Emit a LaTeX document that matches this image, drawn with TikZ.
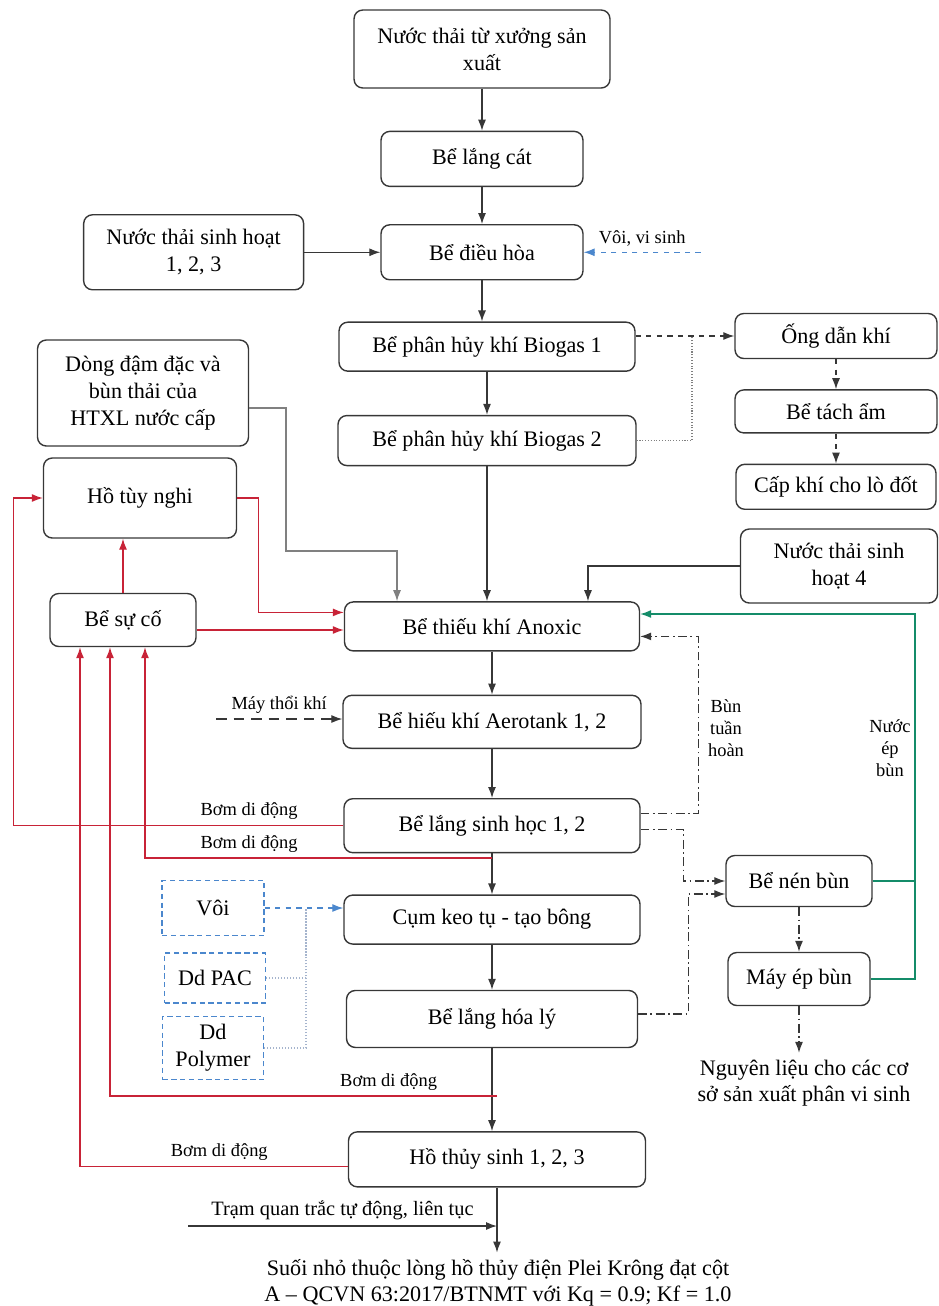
\documentclass[tikz,border=0pt]{standalone}
\usepackage{fontspec}
\setmainfont{Liberation Serif}
\usetikzlibrary{positioning,arrows.meta}
\definecolor{pumpred}{RGB}{200,35,55}
\definecolor{presgreen}{RGB}{20,140,105}
\definecolor{dosblue}{RGB}{75,135,205}
\definecolor{chemgray}{RGB}{165,180,205}
\definecolor{linegray}{RGB}{55,55,55}

\tikzset{
  tank/.style={draw=linegray, line width=0.8pt, rounded corners=5pt, align=center,
    inner sep=2pt, font=\fontsize{12.6}{15.4}\selectfont},
  chem/.style={draw=dosblue, densely dashed, line width=0.7pt, align=center,
    inner sep=2pt, font=\fontsize{12.6}{15.4}\selectfont},
  lbl/.style={font=\fontsize{10.5}{12.5}\selectfont, align=center, inner sep=1pt},
  flow/.style={draw=linegray, line width=0.7pt, -{Latex[length=2.2mm,width=1.6mm]}},
  pump/.style={flow, draw=pumpred},
  gas/.style={flow, dashed},
  gasdot/.style={draw=gray, densely dotted, line width=0.6pt},
  grayflow/.style={flow, draw=gray},
  dose/.style={flow, draw=dosblue, dashed},
  chemline/.style={draw=chemgray, densely dotted, line width=0.7pt},
  sludge/.style={flow, dash pattern=on 5pt off 2pt on 1pt off 2pt},
  air/.style={flow, dash pattern=on 6pt off 4pt},
  pressline/.style={flow, draw=presgreen},
  greenplain/.style={draw=presgreen, line width=0.7pt}
}

\begin{document}
\begin{tikzpicture}[x=0.02cm, y=-0.02cm]
\useasboundingbox (0,0) rectangle (938,1306);

% main line
\node[tank, minimum width=5.12cm, minimum height=1.56cm] (src) at (482,49) {Nước thải từ xưởng sản\\xuất};
\node[tank, below=0.84cm of src, minimum width=4.04cm, minimum height=1.1cm] (cat) {Bể lắng cát};
\node[tank, below=0.74cm of cat, minimum width=4.04cm, minimum height=1.1cm] (dh) {Bể điều hòa};
\node[tank, below=0.82cm of dh, xshift=0.1cm, minimum width=5.92cm, minimum height=0.98cm] (bio1) {Bể phân hủy khí Biogas 1};
\node[tank, below=0.86cm of bio1, minimum width=5.96cm, minimum height=1cm] (bio2) {Bể phân hủy khí Biogas 2};
\node[tank, below=2.7cm of bio2, xshift=0.1cm, minimum width=5.9cm, minimum height=0.98cm] (anoxic) {Bể thiếu khí Anoxic};
\node[tank, below=0.86cm of anoxic, minimum width=5.96cm, minimum height=1.06cm] (aero) {Bể hiếu khí Aerotank 1, 2};
\node[tank, below=0.98cm of aero, minimum width=5.92cm, minimum height=1.08cm] (lsh) {Bể lắng sinh học 1, 2};
\node[tank, below=0.82cm of lsh, minimum width=5.92cm, minimum height=0.98cm] (keo) {Cụm keo tụ - tạo bông};
\node[tank, below=0.9cm of keo, minimum width=5.82cm, minimum height=1.14cm] (lhl) {Bể lắng hóa lý};
\node[tank, below=1.66cm of lhl, xshift=0.1cm, minimum width=5.94cm, minimum height=1.1cm] (hts) {Hồ thủy sinh 1, 2, 3};
\node[lbl, font=\fontsize{12.6}{14.8}\selectfont] (song) at (498,1283) {Suối nhỏ thuộc lòng hồ thủy điện Plei Krông đạt cột\\A -- QCVN 63:2017/BTNMT với Kq = 0.9; Kf = 1.0};

% side boxes
\node[tank, left=1.52cm of dh, minimum width=4.4cm, minimum height=1.5cm] (sh123) {Nước thải sinh hoạt\\1, 2, 3};
\node[tank, minimum width=4.04cm, minimum height=0.9cm] (ong) at (836,336) {Ống dẫn khí};
\node[tank, below=0.6cm of ong, minimum width=4.04cm, minimum height=0.86cm] (tach) {Bể tách ẩm};
\node[tank, below=0.6cm of tach, minimum width=4cm, minimum height=0.9cm] (capkhi) {Cấp khí cho lò đốt};
\node[tank, minimum width=4.22cm, minimum height=2.12cm] (dong) at (143,393) {Dòng đậm đặc và\\bùn thải của\\HTXL nước cấp};
\node[tank, minimum width=3.86cm, minimum height=1.6cm] (ho) at (140,498) {Hồ tùy nghi};
\node[tank, minimum width=2.92cm, minimum height=1.06cm] (suco) at (123,620) {Bể sự cố};
\node[tank, minimum width=3.94cm, minimum height=1.48cm] (sh4) at (839,566) {Nước thải sinh\\hoạt 4};
\node[chem, minimum width=2.04cm, minimum height=1.1cm] (voi) at (213,908) {Vôi};
\node[chem, minimum width=2.02cm, minimum height=1cm] (pac) at (215,978) {Dd PAC};
\node[chem, minimum width=2.02cm, minimum height=1.26cm] (poly) at (213,1048) {Dd\\Polymer};
\node[tank, minimum width=2.92cm, minimum height=1.02cm] (nen) at (799,881) {Bể nén bùn};
\node[tank, minimum width=2.84cm, minimum height=1.06cm] (ep) at (799,979) {Máy ép bùn};
\node[lbl, font=\fontsize{12.6}{14.8}\selectfont] (nl) at (804,1083) {Nguyên liệu cho các cơ\\sở sản xuất phân vi sinh};
\node[lbl] (bth) at (726,728) {Bùn\\tuần\\hoàn};
\node[lbl] (neb) at (890,748) {Nước\\ép\\bùn};

% main flow
\draw[flow] (src) -- (cat);
\draw[flow] (cat) -- (dh);
\draw[flow] (sh123) -- (dh);
\draw[flow] (dh.south) -- (dh.south |- bio1.north);
\draw[flow] (bio1.south) -- (bio1.south |- bio2.north);
\draw[flow] (bio2.south) -- (bio2.south |- anoxic.north);
\draw[flow] (anoxic) -- (aero);
\draw[flow] (aero) -- (lsh);
\draw[flow] (lsh) -- (keo);
\draw[flow] (keo) -- (lhl);
\draw[flow] (lhl.south) -- (lhl.south |- hts.north);
\draw[flow] (hts.south) -- ([yshift=0.1cm]hts.south |- song.north);
\coordinate (qt) at (188,1226);
\draw[flow] (qt) -- (qt -| hts.south) node[lbl, font=\fontsize{11.6}{13}\selectfont, midway, above=2pt] {Trạm quan trắc tự động, liên tục};

% biogas
\coordinate (gasjoin) at (692,336);
\draw[gas] (bio1.east |- ong.west) -- (ong.west);
\draw[gasdot] (bio2.east) -| (gasjoin);
\draw[gas] (ong) -- (tach);
\draw[gas] (tach) -- (capkhi);

% inputs
\coordinate[right=2.34cm of dh.east] (vvs);
\draw[dose] (vvs) -- (dh.east) node[lbl, midway, above=2pt] {Vôi, vi sinh};
\coordinate (dongbend) at (286,551);
\draw[grayflow] ([yshift=-0.3cm]dong.east) -| (dongbend) -| ([xshift=-1.9cm]anoxic.north);
\draw[flow] (sh4.west) -| ([xshift=1.92cm]anoxic.north);
\coordinate (blower) at (216,719);
\draw[air] (blower) -- (blower -| aero.west) node[lbl, midway, above=2pt] {Máy thổi khí};

% emergency / pumps
\draw[pump] (ho.east) -| ([xshift=-1.7cm,yshift=0.28cm]anoxic.west) -- ([yshift=0.28cm]anoxic.west);
\draw[pump] ([yshift=-0.2cm]suco.east) -- ([yshift=-0.2cm]suco.east -| anoxic.west);
\draw[pump] (suco.north) -- (suco.north |- ho.south);
\draw[pump] (lsh.west) -| node[lbl, pos=0.143, above=2pt] {Bơm di động} ([xshift=-0.58cm]ho.west) -- (ho.west);
\coordinate (p2) at (492,858);
\draw[pump] (p2) -| node[lbl, pos=0.35, above=2pt] {Bơm di động} ([xshift=0.44cm]suco.south);
\coordinate (p3) at (497,1096);
\draw[pump] (p3) -| node[lbl, pos=0.14, above=2pt] {Bơm di động} ([xshift=-0.26cm]suco.south);
\draw[pump] ([yshift=-0.14cm]hts.west) -| node[lbl, pos=0.24, above=2pt] {Bơm di động} ([xshift=-0.86cm]suco.south);

% chemicals
\coordinate (chemjoin) at (306,908);
\draw[dose] (voi.east) -- (voi.east -| keo.west);
\draw[chemline] (pac.east) -| (chemjoin);
\draw[chemline] (poly.east) -| (chemjoin);

% sludge
\draw[sludge] ([yshift=0.24cm]lsh.east) -| ([xshift=1.16cm,yshift=-0.2cm]anoxic.east) -- ([yshift=-0.2cm]anoxic.east);
\draw[sludge] ([yshift=-0.08cm]lsh.east) -| ([xshift=-0.84cm]nen.west) -- (nen.west);
\draw[sludge] ([yshift=0.1cm]lhl.east) -| ([xshift=-0.74cm,yshift=-0.26cm]nen.west) -- ([yshift=-0.26cm]nen.west);
\draw[sludge] (nen) -- (ep);
\draw[sludge] (ep.south) -- ([yshift=0.1cm]ep.south |- nl.north);

% press water
\coordinate (press) at (915,614);
\draw[pressline] (ep.east) -| (press) -- (press -| anoxic.east);
\draw[greenplain] (nen.east) -- (nen.east -| press);
\end{tikzpicture}
\end{document}
